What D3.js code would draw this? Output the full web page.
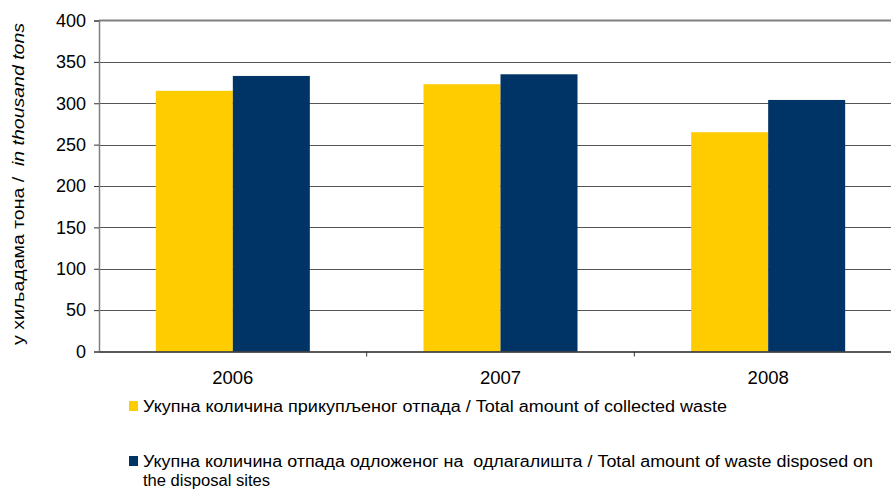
<!DOCTYPE html>
<html><head><meta charset="utf-8">
<script src="https://cdn.jsdelivr.net/npm/d3@7"></script>
<style>body{margin:0;background:#fff;} svg{display:block;font-family:"Liberation Sans",Arial,sans-serif;}</style>
</head><body>
<svg id="c" width="891" height="489"></svg>
<script>
const years = ["2006", "2007", "2008"];
const collected = [315, 323, 265];
const disposed = [333, 335, 304];
const yTicks = [0, 50, 100, 150, 200, 250, 300, 350, 400];
const seriesNames = [
  "Укупна количина прикупљеног отпада / Total amount of collected waste",
  "Укупна количина отпада одложеног на  одлагалишта / Total amount of waste disposed on",
  "the disposal sites"
];
const colors = ["#FFCC00", "#003366"];

const svg = d3.select("#c");
const mLeft = 99, mRight = 902, mTop = 20.5, mBottom = 351.5;

const x = d3.scaleBand().domain(years).range([mLeft, mRight]).padding(0);
const x1 = d3.scaleBand().domain([0, 1]).range([0, x.bandwidth()]).paddingInner(0).paddingOuter(0.738);
const y = d3.scaleLinear().domain([0, 400]).range([mBottom, mTop]);

// gridlines
svg.append("g").selectAll("line").data(yTicks.filter(d => d > 0 && d < 400)).join("line")
  .attr("x1", mLeft).attr("x2", mRight)
  .attr("y1", d => Math.round(y(d)) + 0.5).attr("y2", d => Math.round(y(d)) + 0.5)
  .attr("stroke", "#555").attr("stroke-width", 1);
// top border
svg.append("line").attr("x1", mLeft).attr("x2", mRight)
  .attr("y1", y(400)).attr("y2", y(400)).attr("stroke", "#808080").attr("stroke-width", 2);

// bars
const data = years.map((yr, i) => ({yr, vals: [collected[i], disposed[i]]}));
const g = svg.append("g").selectAll("g").data(data).join("g")
  .attr("transform", d => `translate(${x(d.yr)},0)`);
g.selectAll("rect").data(d => d.vals.map((v, k) => ({v, k}))).join("rect")
  .attr("x", d => x1(d.k)).attr("width", x1.bandwidth())
  .attr("y", d => y(d.v)).attr("height", d => y(0) - y(d.v))
  .attr("fill", d => colors[d.k]);

// y axis
const yAxis = svg.append("g").attr("transform", `translate(${mLeft},0)`)
  .call(d3.axisLeft(y).tickValues(yTicks).tickSize(5).tickPadding(8));
yAxis.select(".domain").attr("stroke", "#808080").attr("stroke-width", 1.5);
yAxis.selectAll(".tick line").attr("stroke", "#333");
yAxis.selectAll(".tick text").attr("font-size", 18).attr("fill", "#000")
  .attr("font-family", "'Liberation Sans', Arial, sans-serif");

// x axis
const xAxis = svg.append("g").attr("transform", `translate(0,${mBottom})`)
  .call(d3.axisBottom(x).tickSize(0).tickPadding(19));
xAxis.select(".domain").attr("stroke", "#222").attr("stroke-width", 1.5);
xAxis.selectAll(".tick text").attr("font-size", 18.5).attr("fill", "#000")
  .attr("font-family", "'Liberation Sans', Arial, sans-serif");
// category boundary ticks
svg.append("g").selectAll("line").data(years.slice(1)).join("line")
  .attr("x1", d => x(d)).attr("x2", d => x(d))
  .attr("y1", mBottom).attr("y2", mBottom + 5).attr("stroke", "#333");

// y title
const yt = svg.append("text").attr("transform", "translate(24,184) rotate(-90)")
  .attr("text-anchor", "middle").attr("font-size", 16).attr("fill", "#000");
yt.append("tspan").text("у хиљадама тона /  ");
yt.append("tspan").attr("font-style", "italic").text("in thousand tons");
yt.attr("textLength", 322).attr("lengthAdjust", "spacingAndGlyphs").style("white-space", "pre");

// legend
const leg = svg.append("g");
leg.append("rect").attr("x", 129).attr("y", 401).attr("width", 9).attr("height", 10).attr("fill", colors[0]);
leg.append("rect").attr("x", 129).attr("y", 456).attr("width", 9).attr("height", 10).attr("fill", colors[1]);
const legTexts = [
  {t: seriesNames[0], y: 412, w: 584},
  {t: seriesNames[1], y: 467, w: 730},
  {t: seriesNames[2], y: 486, w: 127}
];
leg.selectAll("text").data(legTexts).join("text")
  .attr("x", 143).attr("y", d => d.y).attr("font-size", 16).attr("fill", "#000")
  .attr("textLength", d => d.w).attr("lengthAdjust", "spacingAndGlyphs")
  .style("white-space", "pre")
  .text(d => d.t);
</script>
</body></html>
